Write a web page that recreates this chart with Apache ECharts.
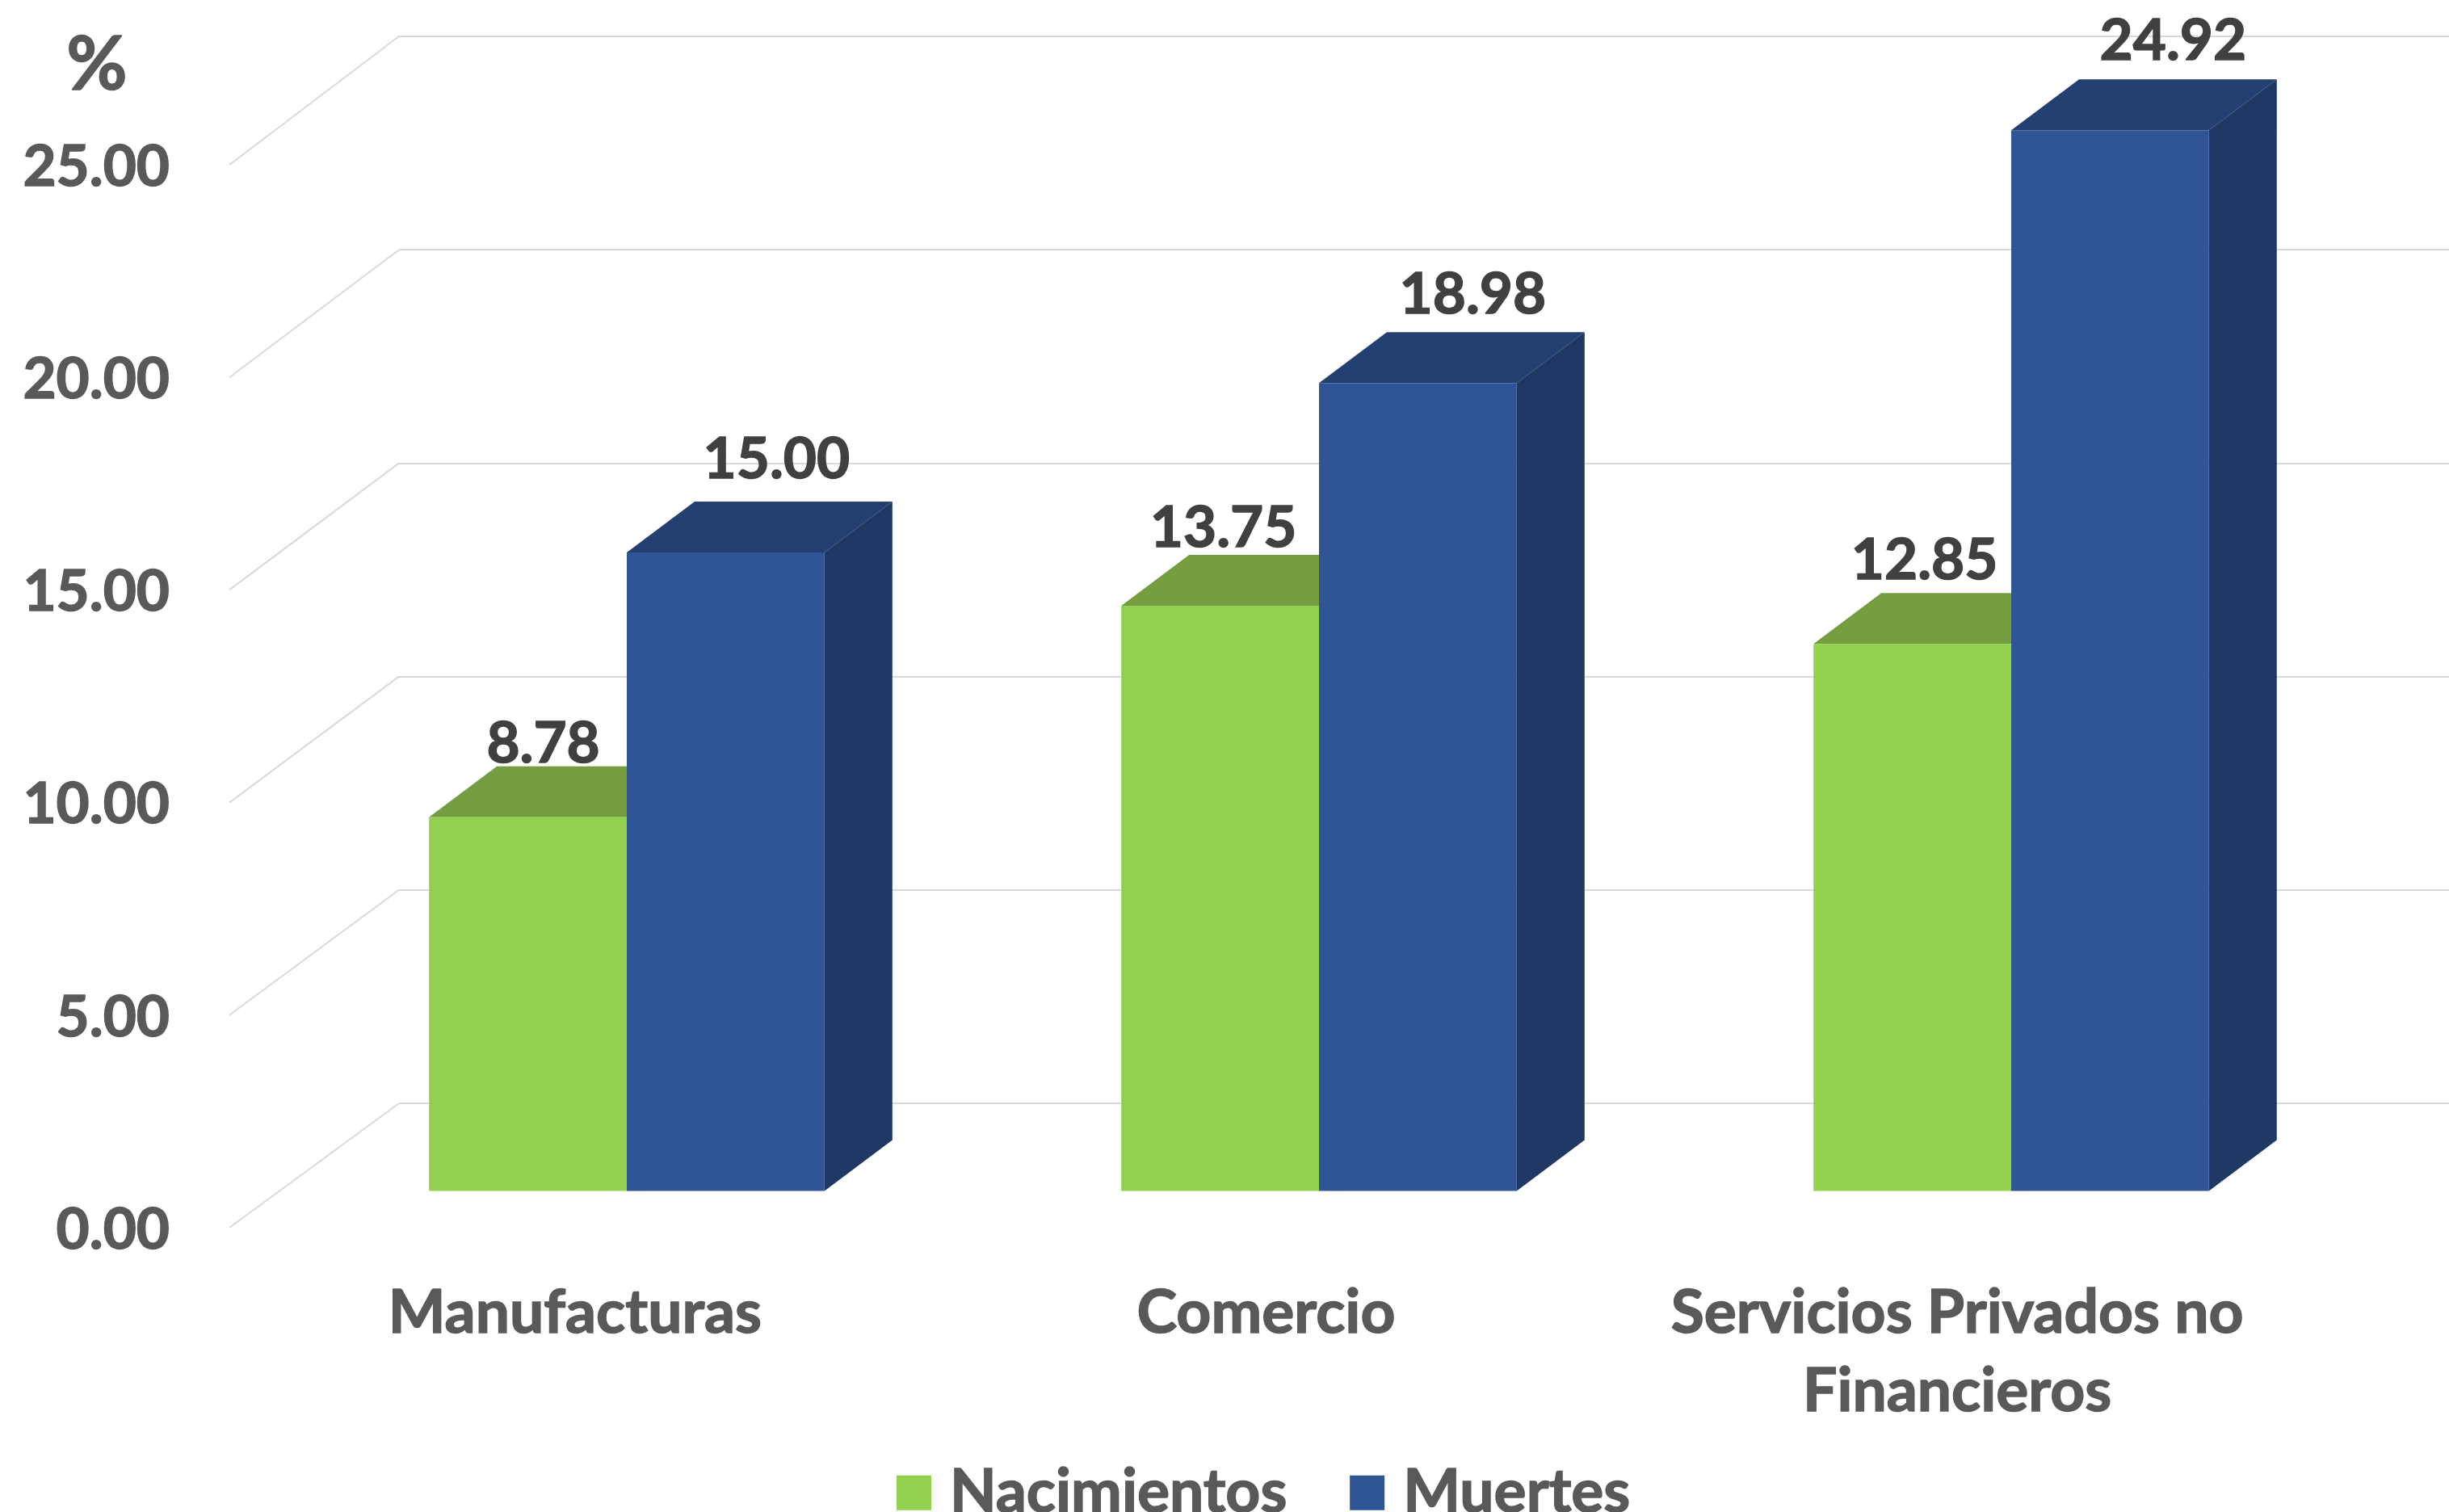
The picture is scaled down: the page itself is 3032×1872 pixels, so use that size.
<!DOCTYPE html>
<html>
<head>
<meta charset="utf-8">
<style>html,body{margin:0;padding:0;background:#fff}#main{width:3032px;height:1872px}</style>
<script src="https://cdn.jsdelivr.net/npm/echarts@6/dist/echarts.min.js"></script>
</head>
<body>
<div id="main"></div>
<script>
var categories = ['Manufacturas', 'Comercio', 'Servicios Privados no\nFinancieros'];
var nacimientos = [8.78, 13.75, 12.85];
var muertes = [15.00, 18.98, 24.92];
var wallTicks = [0, 5, 10, 15, 20, 25];

var fontName = 'Lato';
var barW = 244.8;
var depthX = 84, depthY = 63;
var wallX = 210, wallY = 159;

// hand placed in the original chart, so every label gets its own shift
var labelShiftN = [[19, -55], [4, -60], [15, -68]];
var labelShiftM = [[63, -79], [68, -74], [78, -75]];

function barData(values, shifts) {
  return values.map(function (v, i) {
    return { value: v, label: { offset: shifts[i] } };
  });
}

// top and side of a bar; left says which side of the band centre the bar is on
function faces(left, topColor, sideColor) {
  return function (params, api) {
    var p = api.coord([api.value(0), api.value(1)]);
    var base = api.coord([api.value(0), 0]);
    var x0 = left ? p[0] - barW : p[0];
    var x1 = x0 + barW;
    var y = p[1];
    return {
      type: 'group',
      children: [
        {
          type: 'polygon',
          shape: { points: [[x1, y], [x1 + depthX, y - depthY], [x1 + depthX, base[1] - depthY], [x1, base[1]]] },
          style: { fill: sideColor }
        },
        {
          type: 'polygon',
          shape: { points: [[x0, y], [x1, y], [x1 + depthX, y - depthY], [x0 + depthX, y - depthY]] },
          style: { fill: topColor }
        }
      ]
    };
  };
}

function pairs(values) {
  return values.map(function (v, i) { return [i, v]; });
}

var labelStyle = {
  show: true,
  position: 'top',
  distance: 0,
  fontFamily: fontName,
  fontWeight: 700,
  fontSize: 71,
  color: '#404040',
  textBorderColor: '#404040',
  textBorderWidth: 1.5,
  formatter: function (p) { return p.value.toFixed(2); }
};

var myChart = echarts.init(document.getElementById('main'));
var option = {
  animation: false,
  backgroundColor: '#fff',
  title: {
    text: '%',
    left: 115,
    top: 76,
    textAlign: 'center',
    textVerticalAlign: 'middle',
    textStyle: {
      fontFamily: fontName,
      fontWeight: 700,
      fontSize: 92,
      color: '#595959',
      textBorderColor: '#595959',
      textBorderWidth: 1.5
    }
  },
  legend: {
    data: ['Nacimientos', 'Muertes'],
    left: 1105,
    top: 1805,
    icon: 'rect',
    itemWidth: 43,
    itemHeight: 43,
    itemGap: 77,
    textStyle: {
      fontFamily: fontName,
      fontWeight: 700,
      fontSize: 75,
      color: '#595959',
      textBorderColor: '#595959',
      textBorderWidth: 1.5,
      padding: [0, 0, 0, 18]
    }
  },
  grid: [
    // front edge of the wall: tick labels and category names
    { left: 284, width: 2567, top: 207, height: 1316 },
    // back wall: gridlines
    { left: 494, right: 0, top: 45, height: 1321 },
    // bars
    { left: 347.5, width: 2571, top: 157, height: 1317.5 }
  ],
  xAxis: [
    {
      gridIndex: 0,
      type: 'category',
      data: categories,
      axisLine: { show: false },
      axisTick: { show: false },
      axisLabel: {
        margin: 54,
        interval: 0,
        lineHeight: 97,
        fontFamily: fontName,
        fontWeight: 700,
        fontSize: 75,
        color: '#595959',
        textBorderColor: '#595959',
        textBorderWidth: 1.5
      }
    },
    { gridIndex: 1, type: 'category', data: categories, show: false },
    { gridIndex: 2, type: 'category', data: categories, show: false }
  ],
  yAxis: [
    {
      gridIndex: 0,
      type: 'value',
      min: 0,
      max: 25,
      interval: 5,
      axisLine: { show: false },
      axisTick: { show: false },
      splitLine: { show: false },
      axisLabel: {
        margin: 74,
        fontFamily: fontName,
        fontWeight: 700,
        fontSize: 71,
        color: '#595959',
        textBorderColor: '#595959',
        textBorderWidth: 1.5,
        formatter: function (v) { return v.toFixed(2); }
      }
    },
    {
      gridIndex: 1,
      type: 'value',
      min: 0,
      max: 25,
      interval: 5,
      axisLine: { show: false },
      axisTick: { show: false },
      axisLabel: { show: false },
      splitLine: { lineStyle: { color: '#D9D9D9', width: 2 } }
    },
    { gridIndex: 2, type: 'value', min: 0, max: 25, interval: 5, show: false }
  ],
  series: [
    {
      type: 'custom',
      xAxisIndex: 1,
      yAxisIndex: 1,
      silent: true,
      clip: false,
      z: 1,
      data: pairs(wallTicks),
      renderItem: function (params, api) {
        var x = params.coordSys.x;
        var v = api.value(1);
        var y = api.coord([0, v])[1];
        // the diagonals get a little shorter towards the floor
        var drop = wallY - (25 - v) / 25 * 5;
        return {
          type: 'line',
          shape: { x1: x, y1: y, x2: x - wallX, y2: y + drop },
          style: { stroke: '#D9D9D9', lineWidth: 2 }
        };
      }
    },
    {
      type: 'custom',
      xAxisIndex: 2,
      yAxisIndex: 2,
      silent: true,
      clip: false,
      z: 2,
      data: pairs(nacimientos),
      renderItem: faces(true, '#739D3E', '#5F8232')
    },
    {
      type: 'custom',
      xAxisIndex: 2,
      yAxisIndex: 2,
      silent: true,
      clip: false,
      z: 2,
      data: pairs(muertes),
      renderItem: faces(false, '#243F72', '#1F3864')
    },
    {
      name: 'Nacimientos',
      type: 'bar',
      xAxisIndex: 2,
      yAxisIndex: 2,
      z: 3,
      barWidth: barW,
      barGap: '0%',
      itemStyle: { color: '#92D050' },
      label: labelStyle,
      data: barData(nacimientos, labelShiftN)
    },
    {
      name: 'Muertes',
      type: 'bar',
      xAxisIndex: 2,
      yAxisIndex: 2,
      z: 3,
      barWidth: barW,
      barGap: '0%',
      itemStyle: { color: '#2F5597' },
      label: labelStyle,
      data: barData(muertes, labelShiftM)
    }
  ]
};
myChart.setOption(option);
</script>
</body>
</html>
